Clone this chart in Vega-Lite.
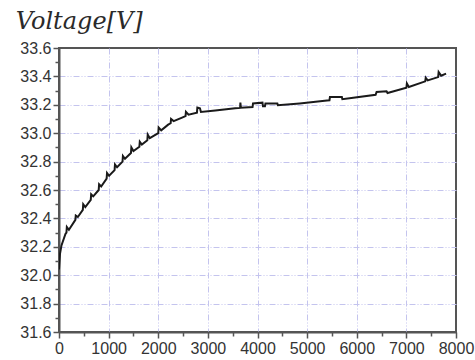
{
  "$schema": "https://vega.github.io/schema/vega-lite/v6.json",
  "autosize": "none",
  "width": 397,
  "height": 284,
  "padding": {"left": 59, "top": 48, "right": 19, "bottom": 28},
  "background": "white",
  "title": {
    "text": "Voltage[V]",
    "anchor": "start",
    "font": "DejaVu Serif",
    "fontStyle": "italic",
    "fontWeight": "normal",
    "fontSize": 24,
    "color": "#2a2a2a",
    "offset": 6,
    "dx": -4
  },
  "config": {
    "view": {"stroke": "#555555", "strokeWidth": 2},
    "axis": {
      "labelFont": "Liberation Sans",
      "labelFontSize": 16,
      "labelColor": "#333333",
      "domainColor": "#555555",
      "domainWidth": 2,
      "tickColor": "#555555",
      "tickWidth": 1.5,
      "gridColor": "#c4c4ee",
      "gridDash": [6, 2, 1, 2, 1, 2],
      "gridWidth": 1,
      "title": null
    }
  },
  "data": {
    "values": [
      {"t": 0, "v": 32.04},
      {"t": 20, "v": 32.15},
      {"t": 50, "v": 32.21},
      {"t": 130, "v": 32.29},
      {"t": 150, "v": 32.30},
      {"t": 158, "v": 32.34},
      {"t": 200, "v": 32.32},
      {"t": 330, "v": 32.39},
      {"t": 338, "v": 32.42},
      {"t": 380, "v": 32.41},
      {"t": 480, "v": 32.46},
      {"t": 488, "v": 32.50},
      {"t": 530, "v": 32.48},
      {"t": 640, "v": 32.53},
      {"t": 648, "v": 32.57},
      {"t": 690, "v": 32.555},
      {"t": 800, "v": 32.60},
      {"t": 808, "v": 32.64},
      {"t": 850, "v": 32.625},
      {"t": 960, "v": 32.68},
      {"t": 968, "v": 32.72},
      {"t": 1010, "v": 32.70},
      {"t": 1120, "v": 32.74},
      {"t": 1128, "v": 32.78},
      {"t": 1170, "v": 32.76},
      {"t": 1280, "v": 32.80},
      {"t": 1288, "v": 32.84},
      {"t": 1330, "v": 32.82},
      {"t": 1450, "v": 32.86},
      {"t": 1458, "v": 32.90},
      {"t": 1500, "v": 32.875},
      {"t": 1620, "v": 32.905},
      {"t": 1628, "v": 32.94},
      {"t": 1670, "v": 32.92},
      {"t": 1780, "v": 32.95},
      {"t": 1788, "v": 32.99},
      {"t": 1830, "v": 32.965},
      {"t": 2000, "v": 33.00},
      {"t": 2008, "v": 33.04},
      {"t": 2060, "v": 33.02},
      {"t": 2200, "v": 33.06},
      {"t": 2250, "v": 33.07},
      {"t": 2258, "v": 33.10},
      {"t": 2310, "v": 33.085},
      {"t": 2480, "v": 33.11},
      {"t": 2550, "v": 33.12},
      {"t": 2558, "v": 33.15},
      {"t": 2610, "v": 33.13},
      {"t": 2780, "v": 33.145},
      {"t": 2788, "v": 33.18},
      {"t": 2840, "v": 33.175},
      {"t": 2860, "v": 33.15},
      {"t": 3150, "v": 33.16},
      {"t": 3550, "v": 33.175},
      {"t": 3650, "v": 33.178},
      {"t": 3655, "v": 33.215},
      {"t": 3665, "v": 33.18},
      {"t": 3900, "v": 33.185},
      {"t": 3910, "v": 33.21},
      {"t": 4100, "v": 33.215},
      {"t": 4110, "v": 33.19},
      {"t": 4150, "v": 33.19},
      {"t": 4160, "v": 33.21},
      {"t": 4400, "v": 33.21},
      {"t": 4410, "v": 33.197},
      {"t": 4850, "v": 33.21},
      {"t": 5400, "v": 33.23},
      {"t": 5450, "v": 33.232},
      {"t": 5460, "v": 33.255},
      {"t": 5700, "v": 33.255},
      {"t": 5710, "v": 33.24},
      {"t": 5930, "v": 33.25},
      {"t": 6380, "v": 33.27},
      {"t": 6400, "v": 33.29},
      {"t": 6600, "v": 33.295},
      {"t": 6620, "v": 33.283},
      {"t": 7000, "v": 33.32},
      {"t": 7010, "v": 33.35},
      {"t": 7050, "v": 33.325},
      {"t": 7380, "v": 33.365},
      {"t": 7390, "v": 33.39},
      {"t": 7430, "v": 33.372},
      {"t": 7640, "v": 33.395},
      {"t": 7650, "v": 33.43},
      {"t": 7700, "v": 33.405},
      {"t": 7800, "v": 33.42}
    ]
  },
  "mark": {"type": "line", "color": "#1a1a1a", "strokeWidth": 2, "clip": true},
  "encoding": {
    "x": {
      "field": "t",
      "type": "quantitative",
      "scale": {"domain": [0, 8000], "nice": false, "zero": false},
      "axis": {
        "values": [0, 500, 1000, 1500, 2000, 2500, 3000, 3500, 4000, 4500, 5000, 5500, 6000, 6500, 7000, 7500, 8000],
        "labelExpr": "datum.value % 1000 === 0 ? datum.label : ''",
        "format": "d",
        "labelFlush": false,
        "labelOverlap": false,
        "labelPadding": 2,
        "tickSize": {"condition": {"test": "datum.value % 1000 === 0", "value": 6}, "value": 4},
        "gridOpacity": {"condition": {"test": "datum.value % 1000 === 0 && datum.value > 0 && datum.value < 8000", "value": 1}, "value": 0}
      }
    },
    "y": {
      "field": "v",
      "type": "quantitative",
      "scale": {"domain": [31.6, 33.6], "nice": false, "zero": false},
      "axis": {
        "values": [31.6, 31.7, 31.8, 31.9, 32.0, 32.1, 32.2, 32.3, 32.4, 32.5, 32.6, 32.7, 32.8, 32.9, 33.0, 33.1, 33.2, 33.3, 33.4, 33.5, 33.6],
        "labelExpr": "(round(datum.value * 10) % 2 === 0) ? format(datum.value, '.1f') : ''",
        "labelFlush": false,
        "labelOverlap": false,
        "labelPadding": 2,
        "tickSize": {"condition": {"test": "round(datum.value * 10) % 2 === 0", "value": 6}, "value": 4},
        "gridOpacity": {"condition": {"test": "round(datum.value * 10) % 2 === 0 && datum.value > 31.65 && datum.value < 33.55", "value": 1}, "value": 0}
      }
    }
  }
}
